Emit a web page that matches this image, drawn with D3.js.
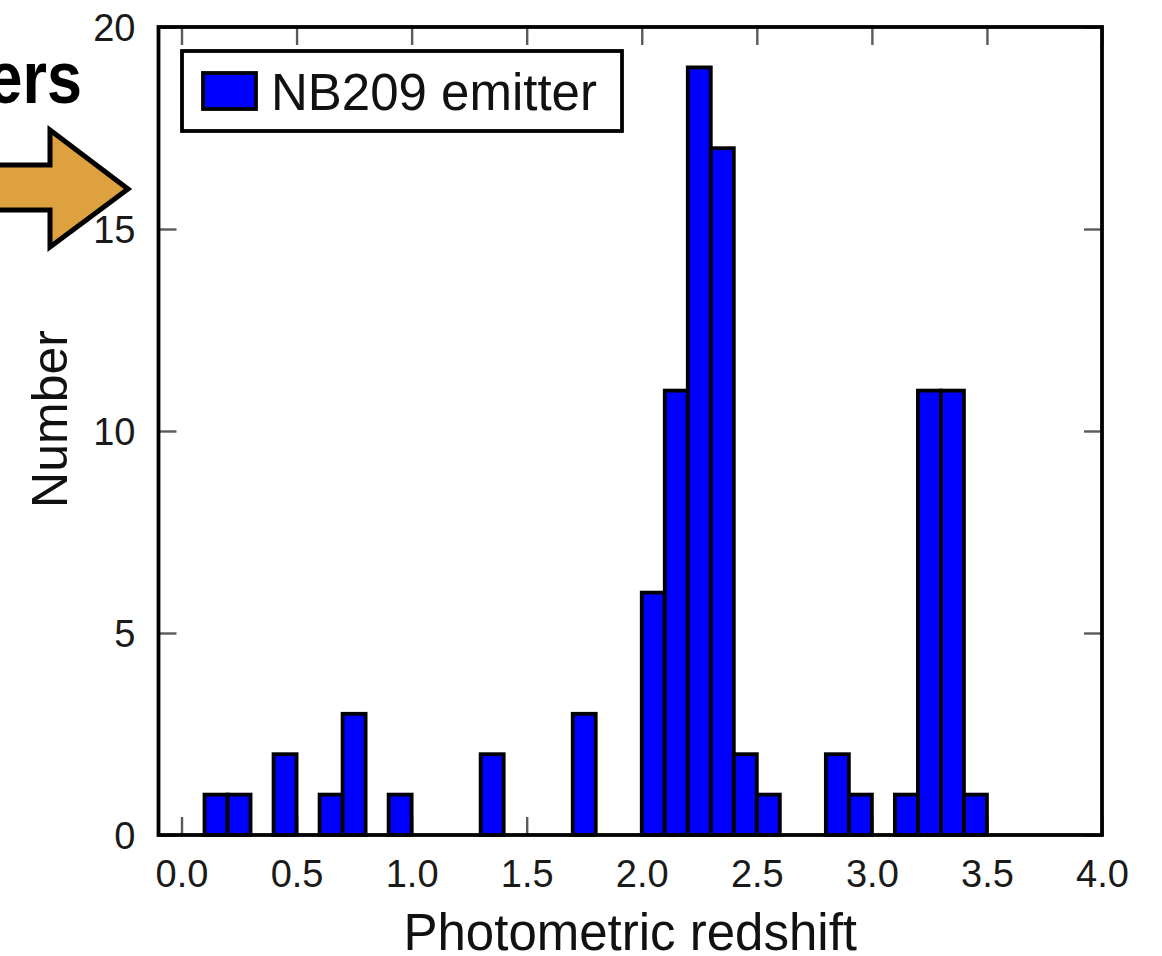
<!DOCTYPE html>
<html>
<head>
	<meta charset="utf-8">
	<title>NB209 emitter photo-z histogram</title>
	<script src="https://d3js.org/d3.v7.min.js"></script>
	<style>
		body { margin: 0; background: #fff; }
		text { font-family: 'Liberation Sans', Arial, Helvetica, sans-serif; }
	</style>
</head>
<body>
	<div class="chart"></div>

	<script type="text/javascript">
		// histogram bins (lower edge, width 0.1) and counts
		var binLo = [0.1, 0.2, 0.4, 0.6, 0.7, 0.9, 1.3, 1.7, 2.0, 2.1, 2.2, 2.3, 2.4, 2.5, 2.8, 2.9, 3.1, 3.2, 3.3, 3.4]
		var counts = [1, 1, 2, 1, 3, 1, 2, 3, 6, 11, 19, 17, 2, 1, 2, 1, 1, 11, 11, 1]
		var binWidth = 0.1
		var xTicks = [0, 0.5, 1.0, 1.5, 2.0, 2.5, 3.0, 3.5, 4.0]
		var yTicks = [0, 5, 10, 15, 20]
		var seriesName = 'NB209 emitter'

		var width = 1162
		var height = 956
		// 绘图区边界（不要用 top 作变量名，会和 window.top 冲突）
		var pLeft = 158.5, pRight = 1102, pTop = 27, pBottom = 835
		var tickLen = 18

		var svg = d3
			.select('.chart')
			.append('svg')
			.attr('width', width)
			.attr('height', height)

		// 比例尺
		var xScale = d3.scaleLinear().domain([-0.1, 4.0]).range([pLeft, pRight])
		var yScale = d3.scaleLinear().domain([0, 20]).range([pBottom, pTop])

		// 坐标轴（刻度向内）
		var fmt = d3.format('.1f')
		var xAxisB = svg.append('g')
			.attr('transform', `translate(0, ${pBottom})`)
			.call(d3.axisBottom(xScale).tickValues(xTicks).tickSize(-tickLen).tickFormat(fmt))
		svg.append('g')
			.attr('transform', `translate(0, ${pTop})`)
			.call(d3.axisTop(xScale).tickValues(xTicks).tickSize(-tickLen).tickFormat(''))
		var yAxisL = svg.append('g')
			.attr('transform', `translate(${pLeft}, 0)`)
			.call(d3.axisLeft(yScale).tickValues(yTicks).tickSize(-tickLen))
		svg.append('g')
			.attr('transform', `translate(${pRight}, 0)`)
			.call(d3.axisRight(yScale).tickValues(yTicks).tickSize(-tickLen).tickFormat(''))

		svg.selectAll('.domain').remove()
		svg.selectAll('.tick line').attr('stroke', '#5a5a5a').attr('stroke-width', 2.4)

		xAxisB.selectAll('.tick text')
			.attr('y', 0)
			.attr('dy', 0)
			.attr('transform', 'translate(0, 52)')
			.style('font-size', '38px')
			.attr('fill', '#1a1a1a')
		yAxisL.selectAll('.tick text')
			.attr('x', -23)
			.attr('dy', '0.36em')
			.style('font-size', '38px')
			.attr('fill', '#1a1a1a')

		// 柱子
		svg.append('g')
			.selectAll('rect')
			.data(binLo)
			.enter()
			.append('rect')
			.attr('x', d => xScale(d))
			.attr('width', d => xScale(d + binWidth) - xScale(d))
			.attr('y', (d, i) => yScale(counts[i]))
			.attr('height', (d, i) => yScale(0) - yScale(counts[i]))
			.attr('fill', '#0000ff')
			.attr('stroke', '#000')
			.attr('stroke-width', 3.8)

		// 边框
		svg.append('rect')
			.attr('x', pLeft)
			.attr('y', pTop)
			.attr('width', pRight - pLeft)
			.attr('height', pBottom - pTop)
			.attr('fill', 'none')
			.attr('stroke', '#000')
			.attr('stroke-width', 3.8)

		// 图例
		var legend = svg.append('g')
		legend.append('rect')
			.attr('x', 182).attr('y', 51)
			.attr('width', 440).attr('height', 80)
			.attr('fill', '#fff')
			.attr('stroke', '#000')
			.attr('stroke-width', 3.8)
		legend.append('rect')
			.attr('x', 203).attr('y', 73)
			.attr('width', 53).attr('height', 36)
			.attr('fill', '#0000ff')
			.attr('stroke', '#000')
			.attr('stroke-width', 3.8)
		legend.append('text')
			.attr('x', 271).attr('y', 110)
			.style('font-size', '51px')
			.attr('fill', '#111')
			.text(seriesName)

		// 轴标题
		svg.append('text')
			.attr('x', (pLeft + pRight) / 2)
			.attr('y', 950)
			.attr('text-anchor', 'middle')
			.style('font-size', '51px')
			.attr('fill', '#111')
			.text('Photometric redshift')
		svg.append('text')
			.attr('transform', 'translate(67, 419) rotate(-90)')
			.attr('text-anchor', 'middle')
			.style('font-size', '50px')
			.attr('fill', '#111')
			.text('Number')

		// 左上角的幻灯片残留：文字和箭头
		svg.append('text')
			.attr('transform', 'translate(82, 103) scale(0.85, 1)')
			.attr('text-anchor', 'end')
			.style('font-size', '74px')
			.style('font-weight', 'bold')
			.attr('fill', '#000')
			.text('ers')

		var arrow = [[-10, 165], [50, 165], [50, 130], [128, 189], [50, 247], [50, 210], [-10, 210]]
		svg.append('path')
			.attr('d', d3.line()(arrow) + 'Z')
			.attr('fill', '#dea140')
			.attr('stroke', '#000')
			.attr('stroke-width', 5)
			.attr('stroke-linejoin', 'miter')
	</script>
</body>
</html>
